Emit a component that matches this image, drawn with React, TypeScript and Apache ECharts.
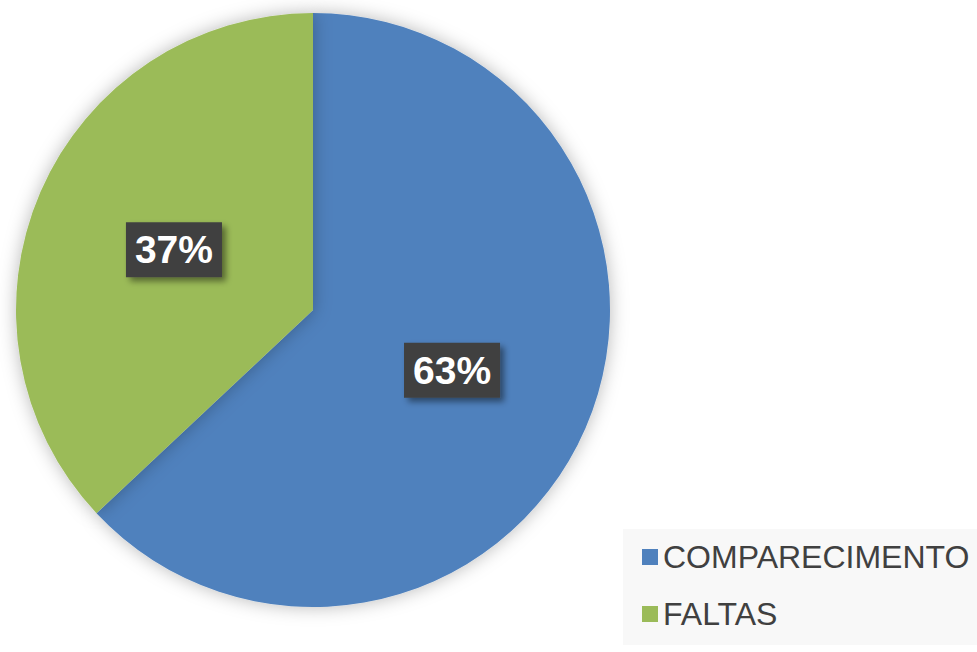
import React, { useEffect, useRef } from "react";
import * as echarts from "echarts";

const categories = ["COMPARECIMENTO", "FALTAS"];
const values = [63, 37];
const colors = ["#4F81BD", "#9BBB59"];

export default function App() {
  const ref = useRef<HTMLDivElement>(null);
  useEffect(() => {
    if (!ref.current) return;
    const chart = echarts.init(ref.current, undefined, { renderer: "svg" });
    chart.setOption({
      animation: false,
      backgroundColor: "#ffffff",
      graphic: [
        {
          type: "rect",
          shape: { x: 623, y: 529, width: 354, height: 116 },
          style: { fill: "#f8f8f8" },
          z: -1,
        },
      ],
      legend: {
        orient: "vertical",
        left: 637,
        top: 536,
        padding: 5,
        itemWidth: 16,
        itemHeight: 16,
        itemGap: 25,
        icon: "rect",
        selectedMode: false,
        textStyle: {
          fontSize: 32,
          lineHeight: 32,
          color: "#404040",
          fontFamily: "Liberation Sans, Arial, sans-serif",
        },
        data: categories,
      },
      series: [
        {
          type: "pie",
          center: [313, 310],
          radius: [0, 297],
          startAngle: 90,
          clockwise: true,
          silent: true,
          itemStyle: {
            shadowBlur: 18,
            shadowColor: "rgba(0,0,0,0.28)",
          },
          label: {
            position: "inside",
            formatter: "{d}%",
            color: "#ffffff",
            fontSize: 39,
            fontWeight: "bold",
            lineHeight: 39,
            fontFamily: "Liberation Sans, Arial, sans-serif",
            backgroundColor: "#404040",
            padding: [8, 9, 8, 9],
            shadowBlur: 6,
            shadowOffsetX: 4,
            shadowOffsetY: 4,
            shadowColor: "rgba(0,0,0,0.45)",
          },
          labelLine: { show: false },
          data: categories.map((name, i) => ({
            name,
            value: values[i],
            itemStyle: { color: colors[i] },
          })),
        },
      ],
    });
    return () => chart.dispose();
  }, []);
  return (
    <div
      ref={ref}
      style={{ position: "fixed", left: 0, top: 0, width: 977, height: 652 }}
    />
  );
}
